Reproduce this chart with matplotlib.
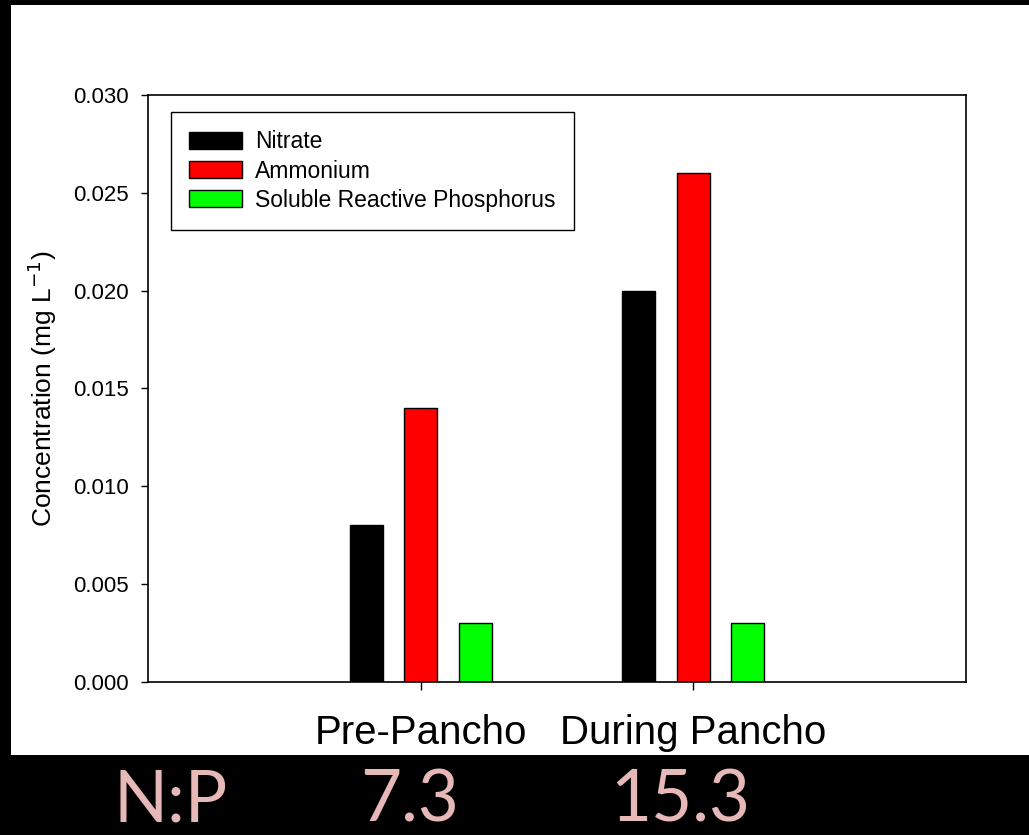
import numpy as np
import matplotlib
matplotlib.use("Agg")
import matplotlib.pyplot as plt
from matplotlib.patches import Rectangle

plt.rcParams['font.family'] = ['Liberation Sans', 'DejaVu Sans']

periods = ["Pre-Pancho", "During Pancho"]
nitrate = [0.008, 0.020]
ammonium = [0.014, 0.026]
srp = [0.003, 0.003]
np_ratio = ["7.3", "15.3"]

series = [("Nitrate", nitrate, "#000000"),
          ("Ammonium", ammonium, "#ff0000"),
          ("Soluble Reactive Phosphorus", srp, "#00ff00")]

fig = plt.figure(figsize=(10.29, 8.35), dpi=100, facecolor="black")

# white slide panel behind the chart
fig.patches.append(Rectangle((11 / 1029, 80 / 835), 1018 / 1029, 750 / 835,
                             transform=fig.transFigure, facecolor="white",
                             edgecolor="none", zorder=-5))

ax = fig.add_axes([148 / 1029, 153 / 835, 818 / 1029, 587 / 835])
ax.set_facecolor("white")
ax.set_zorder(2)

x = np.arange(1, len(periods) + 1)
width = 0.121
offset = 0.2
for i, (name, vals, col) in enumerate(series):
    ax.bar(x + (i - 1) * offset, vals, width, color=col, edgecolor="black",
           linewidth=1, label=name, zorder=2)

ax.set_xlim(0, 3)
ax.set_ylim(0, 0.030)
ax.set_yticks(np.arange(0, 0.0301, 0.005))
ax.set_yticklabels(["%.3f" % v for v in np.arange(0, 0.0301, 0.005)])
ax.set_xticks(x)
ax.set_xticklabels(periods, fontsize=29)
ax.tick_params(axis="y", direction="out", length=5, width=1, labelsize=16, pad=9)
ax.tick_params(axis="x", direction="out", length=6, width=1, pad=17)
for s in ax.spines.values():
    s.set_linewidth(1.2)

ax.set_ylabel("Concentration (mg L$^{-1}$)", fontsize=19, labelpad=10)

leg = ax.legend(loc="upper left", bbox_to_anchor=(0.028, 0.971), borderaxespad=0,
                fontsize=16.5, fancybox=False, edgecolor="black", framealpha=1,
                handlelength=2.31, handleheight=0.79, handletextpad=0.57,
                labelspacing=0.27, borderpad=0.8)
leg.get_frame().set_linewidth(1.0)

# N:P ratios under each period
pink = "#e6b9b8"
for xpos, s in zip([113, 360, 610], ["N:P"] + np_ratio):
    fig.text(xpos / 1029, 1 / 835, s, color=pink, fontsize=51, family="Lato",
             va="bottom")

fig.savefig("out.png", dpi=100, facecolor="black")
